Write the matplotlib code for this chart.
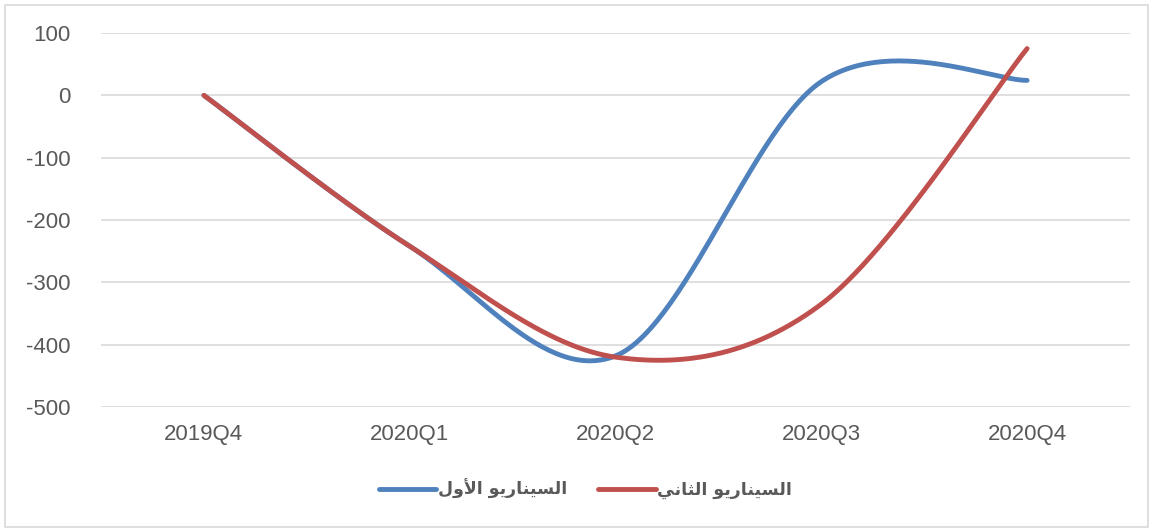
import numpy as np
import matplotlib
matplotlib.use("Agg")
from matplotlib import pyplot as plt

categories = ["2019Q4", "2020Q1", "2020Q2", "2020Q3", "2020Q4"]
scenario_1 = [0, -242, -418, 22, 24]
scenario_2 = [0, -242, -420, -335, 75]
y_ticks = [100, 0, -100, -200, -300, -400, -500]

# Arabic labels, pre-shaped with presentation forms (matplotlib does no shaping)
label_1 = "\uFE8D\uFEDF\uFEB4\uFEF4\uFEE8\uFE8E\uFEAD\uFEF3\uFEEE \uFE8D\uFEF7\uFEED\uFEDD"
label_2 = "\uFE8D\uFEDF\uFEB4\uFEF4\uFEE8\uFE8E\uFEAD\uFEF3\uFEEE \uFE8D\uFEDF\uFE9C\uFE8E\uFEE7\uFEF2"


def visual(s):
    return s[::-1]


def smooth(xs, ys, steps=60):
    # excel-like smoothed line: catmull-rom as cubic bezier
    p = np.column_stack([xs, ys]).astype(float)
    n = len(p)
    out = []
    for i in range(n - 1):
        p0 = p[max(i - 1, 0)]
        p1 = p[i]
        p2 = p[i + 1]
        p3 = p[min(i + 2, n - 1)]
        c1 = p1 + (p2 - p0) / 6
        c2 = p2 - (p3 - p1) / 6
        t = np.linspace(0, 1, steps)[:, None]
        seg = ((1 - t) ** 3) * p1 + 3 * ((1 - t) ** 2) * t * c1 \
            + 3 * (1 - t) * t ** 2 * c2 + t ** 3 * p2
        out.append(seg if i == 0 else seg[1:])
    out = np.vstack(out)
    return out[:, 0], out[:, 1]


def main():
    plt.rcParams["axes.unicode_minus"] = False
    fig = plt.figure(figsize=(11.53, 5.32), dpi=100)
    ax = fig.add_axes([101 / 1153, 1 - 407 / 532, (1130 - 101) / 1153, (407 - 33) / 532])

    x = np.arange(len(categories))
    bx, by = smooth(x, scenario_1)
    rx, ry = smooth(x, scenario_2)
    ax.plot(bx, by, color="#4F81BD", lw=3.5, solid_capstyle="round",
            label=visual(label_1))
    ax.plot(rx, ry, color="#C0504D", lw=3.5, solid_capstyle="round",
            label=visual(label_2))

    ax.set_xlim(-0.5, len(categories) - 0.5)
    ax.set_ylim(-500, 100)
    ax.set_yticks(y_ticks)
    ax.set_xticks(x)
    ax.set_xticklabels(categories)
    ax.grid(axis="y", color="#D9D9D9", lw=1.2)
    ax.set_axisbelow(True)
    for s in ax.spines.values():
        s.set_visible(False)
    ax.tick_params(length=0, labelsize=16, labelcolor="#595959", pad=12)
    for lab in ax.get_xticklabels() + ax.get_yticklabels():
        lab.set_family("Liberation Sans")
    ax.tick_params(axis="y", pad=22)

    leg = ax.legend(loc="center", bbox_to_anchor=(0.471, -0.22), ncol=2,
                    frameon=False, handlelength=3.3, columnspacing=1.8,
                    handletextpad=0.1,
                    prop={"family": "DejaVu Sans", "weight": "bold", "size": 12.5})
    for t in leg.get_texts():
        t.set_color("#595959")

    border = plt.Rectangle((5 / 1153, 5 / 532), 1 - 10 / 1153, 1 - 10 / 532,
                           transform=fig.transFigure, fill=False,
                           edgecolor="#D9D9D9", lw=1.2)
    fig.patches.append(border)

    fig.savefig("out.png", dpi=100)


if __name__ == "__main__":
    main()
